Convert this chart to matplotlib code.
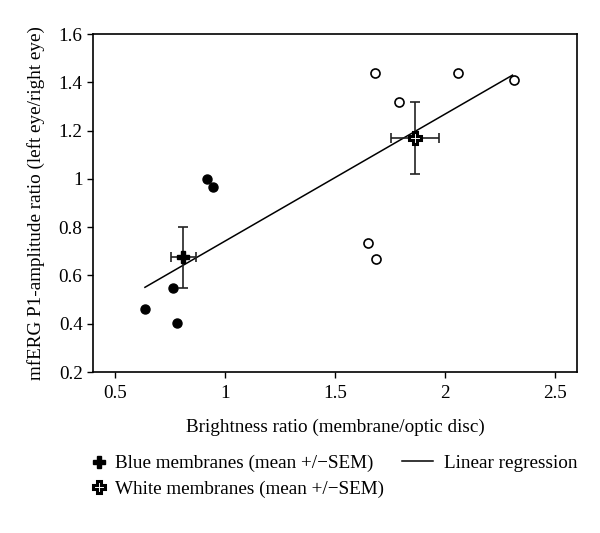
import matplotlib
matplotlib.use("Agg")
import matplotlib.pyplot as plt
from matplotlib.lines import Line2D

plt.rcParams['font.family'] = ['Liberation Serif', 'DejaVu Serif']

# blue membranes (filled circles)
blue_x = [0.916, 0.946, 0.764, 0.636, 0.782]
blue_y = [1.001, 0.967, 0.549, 0.462, 0.404]
blue_mean = (0.81, 0.675)
blue_sem = (0.057, 0.127)

# white membranes (open circles)
white_x = [1.680, 2.057, 2.314, 1.792, 1.649, 1.687]
white_y = [1.437, 1.437, 1.409, 1.317, 0.736, 0.667]
white_mean = (1.863, 1.168)
white_sem = (0.11, 0.149)

# regression line end points
reg_x = [0.636, 2.306]
reg_y = [0.551, 1.430]

fs = 13.8

fig = plt.figure(figsize=(6, 5.33), dpi=100)
ax = fig.add_axes([0.155, 0.302, 0.807, 0.634])

ax.plot(reg_x, reg_y, color='black', linewidth=1.1, zorder=2)
ax.plot(blue_x, blue_y, 'o', color='black', markersize=6.5, linestyle='none', zorder=3)
ax.plot(white_x, white_y, 'o', markerfacecolor='white', markeredgecolor='black',
        markersize=6.5, markeredgewidth=1.2, linestyle='none', zorder=3)

for mean, sem in [(blue_mean, blue_sem), (white_mean, white_sem)]:
    ax.errorbar(mean[0], mean[1], xerr=sem[0], yerr=sem[1], fmt='none',
                ecolor='#222222', capsize=3.5, elinewidth=1.2, capthick=1.2, zorder=3)

ax.plot(blue_mean[0], blue_mean[1], 'P', color='black', markersize=8.5, zorder=4)
ax.plot(white_mean[0], white_mean[1], 'P', markerfacecolor='white', markeredgecolor='black',
        markeredgewidth=2.2, markersize=8, zorder=4)

ax.set_xlim(0.4, 2.6)
ax.set_ylim(0.2, 1.6)
ax.set_xticks([0.5, 1, 1.5, 2, 2.5])
ax.set_xticklabels(['0.5', '1', '1.5', '2', '2.5'])
ax.set_yticks([0.2, 0.4, 0.6, 0.8, 1.0, 1.2, 1.4, 1.6])
ax.set_yticklabels(['0.2', '0.4', '0.6', '0.8', '1', '1.2', '1.4', '1.6'])
ax.tick_params(direction='out', length=4, labelsize=fs, width=1)
ax.tick_params(axis='x', pad=5)
for s in ax.spines.values():
    s.set_linewidth(1.2)

ax.set_xlabel('Brightness ratio (membrane/optic disc)', fontsize=fs, labelpad=12)
ax.set_ylabel('mfERG P1-amplitude ratio (left eye/right eye)', fontsize=fs, labelpad=10)

h_blue = Line2D([], [], marker='P', color='black', markersize=8.5, linestyle='none')
h_white = Line2D([], [], marker='P', markerfacecolor='white', markeredgecolor='black',
                 markeredgewidth=2.2, markersize=8, linestyle='none')
h_line = Line2D([], [], color='black', linewidth=1.1)

fig.legend([h_blue, h_white],
           ['Blue membranes (mean +/\u2212SEM)', 'White membranes (mean +/\u2212SEM)'],
           loc='center left', bbox_to_anchor=(0.152, 0.106), frameon=False,
           fontsize=fs, handlelength=0.8, handletextpad=0.43,
           labelspacing=0.42, borderpad=0, borderaxespad=0)
fig.legend([h_line], ['Linear regression'],
           loc='center left', bbox_to_anchor=(0.67, 0.131), frameon=False,
           fontsize=fs, handlelength=1.6, handletextpad=0.6,
           borderpad=0, borderaxespad=0)

fig.savefig('out.png', dpi=100)
